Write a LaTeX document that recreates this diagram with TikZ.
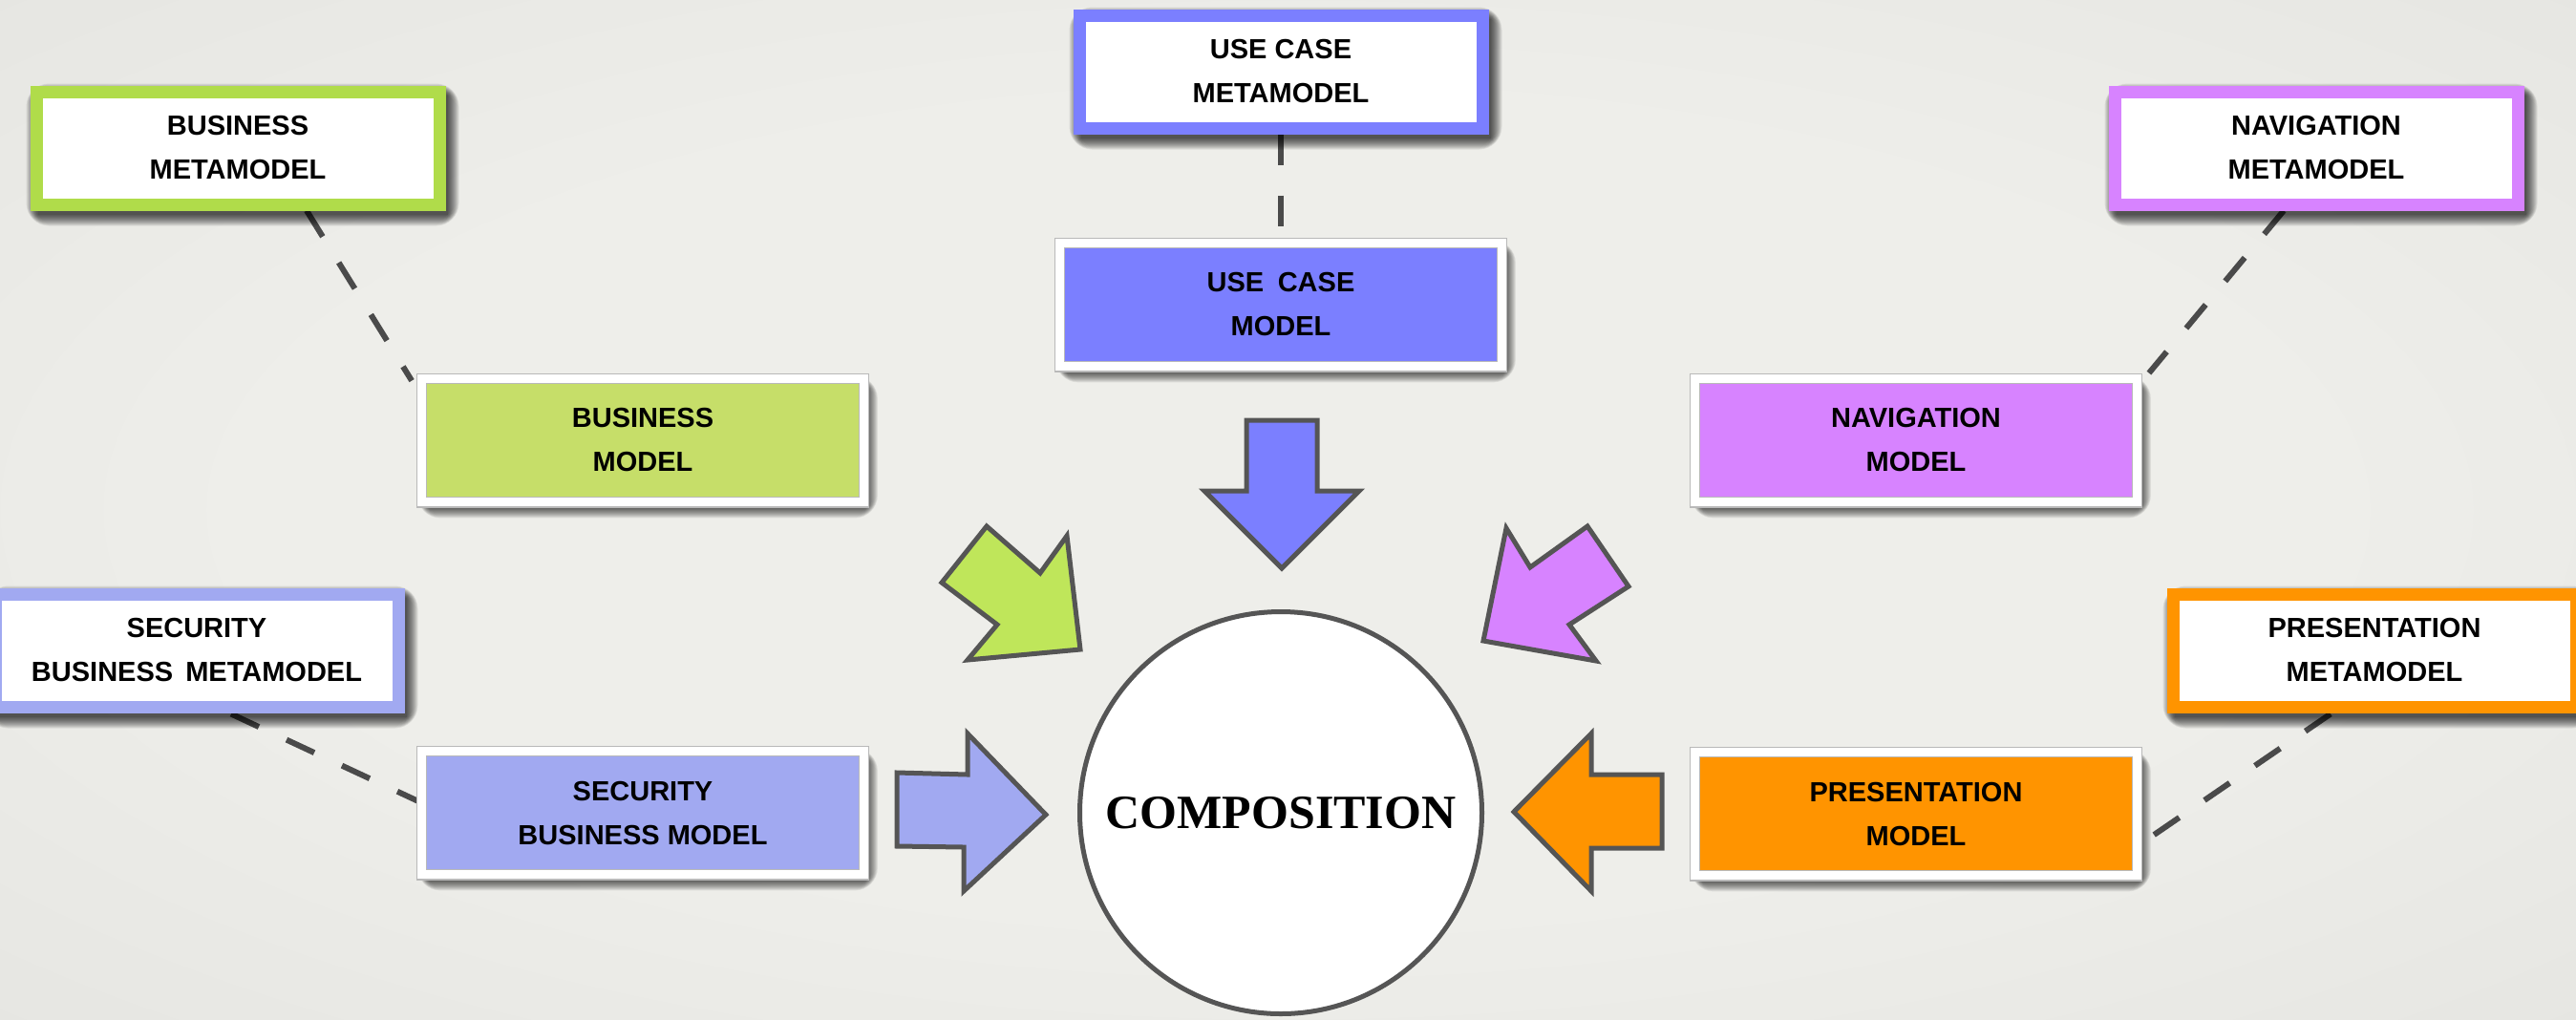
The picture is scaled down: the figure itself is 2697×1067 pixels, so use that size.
\documentclass[tikz,border=0pt]{standalone}
\usepackage{fontspec}
\setmainfont{Liberation Serif}
\setsansfont{Liberation Sans}
\usetikzlibrary{calc}

\definecolor{bgin}{HTML}{EEEEEA}
\definecolor{bgmid}{HTML}{DFDFDB}
\definecolor{bgout}{HTML}{CACAC6}
\definecolor{bizgreen}{HTML}{B0DC4A}
\definecolor{bizgreenlt}{HTML}{C6DE69}
\definecolor{bizarrow}{HTML}{BFE65A}
\definecolor{ucblue}{HTML}{7B7FFF}
\definecolor{navpurple}{HTML}{D783FF}
\definecolor{secblue}{HTML}{A1A9F1}
\definecolor{presorange}{HTML}{FF9400}
\definecolor{linegrey}{HTML}{4A4A4A}
\definecolor{strokegrey}{HTML}{555555}

\pgfdeclareradialshading{vignette}{\pgfpoint{0bp}{0bp}}{%
  color(0bp)=(bgin); color(20bp)=(bgin); color(50bp)=(bgmid); color(71bp)=(bgout)}

\pgfdeclarelayer{bgfill}
\pgfdeclarelayer{links}
\pgfdeclarelayer{shadowlayer}
\pgfsetlayers{bgfill,links,shadowlayer,main}

\newcommand\diaglabelfont{\sffamily\bfseries\fontsize{14.5}{23}\selectfont}
\newcommand\diagcompfont{\rmfamily\bfseries\fontsize{25}{30}\selectfont}

% soft drop shadow behind a named box, built from stacked translucent rectangles
\newcommand\softshadow[1]{%
  \begin{pgfonlayer}{shadowlayer}
    \foreach \i in {0,...,12}{%
      \fill[black,opacity=0.075,rounded corners=\i pt]
        ($(#1.north west)+({8-\i},{10-\i})$) rectangle ($(#1.south east)+({2+\i},{4+\i})$);
    }%
  \end{pgfonlayer}}

\begin{document}
\begin{tikzpicture}[x=0.5pt,y=-0.5pt,
  metabox/.style={draw=#1,fill=white,line width=6.5pt,
      minimum width=211pt,minimum height=59pt,inner sep=0pt,
      font=\diaglabelfont,align=center},
  modelbox/.style={fill=#1,draw=gray!55,line width=0.6pt,
      double=white,double distance=4.5pt,
      minimum width=231.3pt,minimum height=64.8pt,inner sep=0pt,
      font=\diaglabelfont,align=center},
  link/.style={draw=linegrey,line width=3pt,dash pattern=on 16pt off 16pt},
  blockarrow/.style={fill=#1,draw=strokegrey,line width=2.5pt,line join=miter},
]
\useasboundingbox (0,0) rectangle (2697,1067);
\begin{pgfonlayer}{bgfill}
  \shade[shading=vignette] (0,0) rectangle (2697,1067);
\end{pgfonlayer}

% metamodels
\node[metabox=bizgreen]   (bmeta)  at (249,155)  {BUSINESS\\METAMODEL};
\node[metabox=ucblue]     (ucmeta) at (1341,75)  {USE CASE\\METAMODEL};
\node[metabox=navpurple]  (nmeta)  at (2425,155) {NAVIGATION\\METAMODEL};
\node[metabox=secblue]    (smeta)  at (206,681)  {SECURITY\\BUSINESS\hspace{0.45em}METAMODEL};
\node[metabox=presorange] (pmeta)  at (2486,681) {PRESENTATION\\METAMODEL};

% models
\node[modelbox=bizgreenlt] (bmodel)  at (673,461)  {BUSINESS\\MODEL};
\node[modelbox=ucblue]     (ucmodel) at (1341,319) {USE\hspace{0.5em}CASE\\MODEL};
\node[modelbox=navpurple]  (nmodel)  at (2006,461) {NAVIGATION\\MODEL};
\node[modelbox=secblue]    (smodel)  at (673,851)  {SECURITY\\BUSINESS MODEL};
\node[modelbox=presorange] (pmodel)  at (2006,852) {PRESENTATION\\MODEL};

\foreach \b in {bmeta,ucmeta,nmeta,smeta,pmeta,bmodel,ucmodel,nmodel,smodel,pmodel}
  {\softshadow{\b}}

% dashed conformance links
\begin{pgfonlayer}{links}
  \draw[link] ($(bmeta.south)+(72,0)$) -- ($(bmodel.north west)+(-10,3)$);
  \draw[link] (ucmeta.south) -- (ucmodel.north);
  \draw[link] ($(nmeta.south)+(-34,0)$) -- ($(nmodel.north east)+(12,-5)$);
  \draw[link] ($(smeta.south)+(36,1)$) -- ($(smodel.west)+(-3,-12)$);
  \draw[link] ($(pmeta.south)+(-46,1)$) -- ($(pmodel.east)+(13,25)$);
\end{pgfonlayer}

% composition circle
\node[circle,draw=strokegrey,fill=white,line width=2.5pt,
      minimum size=210.5pt,inner sep=0pt,font=\diagcompfont] (comp) at (1341,851) {COMPOSITION};

% block arrows pointing into the composition
\draw[blockarrow=ucblue] (1305,440) -- (1379,440) -- (1379,514) -- (1423,514)
  -- (1342,595) -- (1261,514) -- (1305,514) -- cycle;
\draw[blockarrow=bizarrow] (1033,551) -- (1089,600) -- (1117,561) -- (1131,680)
  -- (1013,691) -- (1044,654) -- (986,610) -- cycle;
\draw[blockarrow=navpurple] (1577,553) -- (1602,594) -- (1662,551) -- (1705,614)
  -- (1643,654) -- (1671,692) -- (1553,671) -- cycle;
\draw[blockarrow=secblue] (939,809) -- (1013,811) -- (1013,768) -- (1095,853)
  -- (1009,933) -- (1009,887) -- (939,886) -- cycle;
\draw[blockarrow=presorange] (1740,811) -- (1666,811) -- (1666,768) -- (1585,850)
  -- (1666,933) -- (1666,888) -- (1740,888) -- cycle;
\end{tikzpicture}
\end{document}
